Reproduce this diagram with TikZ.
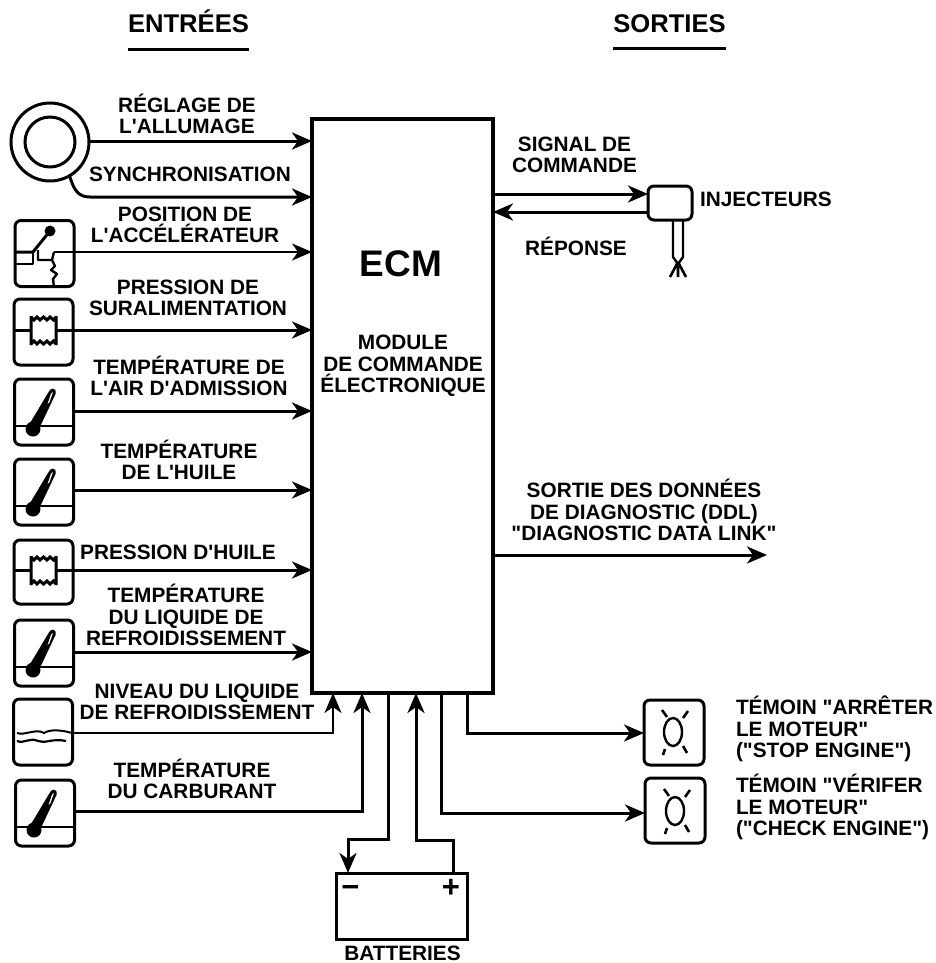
\documentclass[tikz,border=0pt]{standalone}
\usepackage{fontspec}
\setmainfont{Liberation Sans}[Ligatures=TeXOff]
\usetikzlibrary{arrows.meta}
\tikzset{
  x=1pt,y=-1pt,
  every node/.style={outer sep=0pt},
  arr/.style={line width=3pt,-{Stealth[length=20pt,width=17pt,inset=6pt]}},
  lab/.style={font=\fontsize{20.8}{21.5}\selectfont\bfseries,align=center,inner sep=0pt},
  labl/.style={lab,align=left,anchor=west},
  title/.style={font=\fontsize{25.6}{28}\selectfont\bfseries,inner sep=0pt,anchor=base},
  sign/.style={font=\fontsize{31}{31}\selectfont\bfseries,inner sep=0pt,anchor=base},
  icon/.style={draw,line width=3pt,rounded corners=6pt,minimum width=59pt,minimum height=66pt,inner sep=0pt},
  lamp/.style={icon,minimum width=60pt,minimum height=65pt},
  detail/.style={line width=3pt,line join=round},
}
\newcommand{\thermo}[2]{%
  \begin{scope}[shift={(#1,#2)}]
    \draw[line width=2.2pt] (0,47) -- (59,47);
    \fill (18.5,50) circle (7.5);
    \fill (15,45) -- (33.5,14) .. controls (35.5,8) and (42.5,8) .. (41,15) -- (24,51) -- cycle;
    \fill[white] (36.5,14.5) -- (38.5,13) -- (35,23) -- (33,25) -- cycle;
  \end{scope}}
\newcommand{\bellows}[2]{%
  \begin{scope}[shift={(#1,#2)}]
    \draw[detail] (0,0) -- (17,0);
    \draw[line width=3pt,line join=miter] (17,-13) -- (20,-10) -- (23,-13) -- (26,-10) -- (29.5,-13) -- (33,-10) -- (36,-13) -- (39.5,-10) -- (42,-13) (42,-14) -- (42,15) (42,14) -- (39.5,11) -- (36,14) -- (33,11) -- (29.5,14) -- (26,11) -- (23,14) -- (20,11) -- (17,14) (17,15) -- (17,-14);
  \end{scope}}
\newcommand{\rays}[2]{%
  \begin{scope}[shift={(#1,#2)}]
    \draw[line width=2.4pt] (0,0) ellipse (9 and 14);
    \draw[line width=2.6pt] (-11,-22) -- (-6,-15) (15,-21) -- (10,-14) (-10,23) -- (-8,17) (14,21) -- (10,14);
  \end{scope}}
\begin{document}
\begin{tikzpicture}
\useasboundingbox (0,0) rectangle (936,963);
% ECM
\node[draw,line width=4pt,minimum width=181pt,minimum height=574pt,inner sep=0pt] (ecm) at (402.5,406) {};
\node[font=\fontsize{37}{40}\selectfont\bfseries,inner sep=0pt] (ecmt) at (401,264) {ECM};
\node[lab] (ecmd) at (403,366) {MODULE\\DE COMMANDE\\ÉLECTRONIQUE};
% titles
\node[title] (te) at (188.5,33) {ENTRÉES};
\node[title] (ts) at (669.5,33) {SORTIES};
\draw[line width=3pt] (te.west |- 0,50) -- (te.east |- 0,50);
\draw[line width=3pt] (ts.west |- 0,49) -- (ts.east |- 0,49);
% input icons
\node[draw,circle,line width=3pt,minimum size=78pt,inner sep=0pt] (ring) at (50,142) {};
\node[draw,circle,line width=3pt,minimum size=50pt,inner sep=0pt] (ringi) at (50,142) {};
\node[icon] (i3) at (44.5,253.5) {};
\node[icon] (i4) at (43.5,332) {};
\node[icon] (i5) at (44,412) {};
\node[icon] (i6) at (44,492) {};
\node[icon,minimum height=64pt] (i7) at (43.5,572) {};
\node[icon] (i8) at (44,653) {};
\node[icon] (i9) at (43,732) {};
\node[icon] (i10) at (45,813) {};
% icon details
\fill (50,231) circle (5.5);
\draw[detail] (50,231) -- (33,252) -- (15,252);
\draw[detail,line width=2.4pt] (15,264) -- (33,264) -- (33,252);
\draw[detail,line width=2.4pt] (38,250) -- (38,260) -- (52,260) -- (55,266) -- (51,270) -- (57,274) -- (53,279) -- (54,287);
\draw[detail,line width=2.4pt] (52,260) -- (54,252);
\bellows{14}{330}
\bellows{14}{570}
\thermo{14.5}{379}
\thermo{14.5}{459}
\thermo{14.5}{620}
\thermo{15.5}{780}
\draw[line width=2.2pt] (17,741) .. controls (24,744) and (30,737) .. (38,741) .. controls (45,744) and (52,738) .. (66,741);
\draw[line width=2pt] (17,733) .. controls (24,736) and (36,728) .. (44,733) .. controls (50,729) and (62,730) .. (72,733);
% input connectors
\draw[arr] (ring.east |- 0,141) -- (ecm.west |- 0,141);
\draw[arr] (ring.-60) .. controls (74,190) and (78,197) .. (90,197) -- (ecm.west |- 0,197);
\draw[arr,line width=2.6pt] (54,252) -- (i3.east |- 0,252) -- (ecm.west |- 0,252);
\draw[arr] (i4.east |- 0,330) -- (ecm.west |- 0,330);
\draw[detail] (56,330) -- (i4.east |- 0,330);
\draw[arr] (i5.east |- 0,411) -- (ecm.west |- 0,411);
\draw[arr] (i6.east |- 0,490) -- (ecm.west |- 0,490);
\draw[arr] (i7.east |- 0,570) -- (ecm.west |- 0,570);
\draw[detail] (56,570) -- (i7.east |- 0,570);
\draw[arr] (i8.east |- 0,652) -- (ecm.west |- 0,652);
\draw[arr,line width=2.6pt] (i9.east |- 0,733) -- (333,733) -- (333,693);
\draw[arr] (i10.east |- 0,811) -- (362,811) -- (362,693);
% input labels
\node[lab] (l1) at (187,114) {RÉGLAGE DE\\L'ALLUMAGE};
\node[lab] (l2) at (190,174) {SYNCHRONISATION};
\node[lab] (l3) at (185,225) {POSITION DE\\L'ACCÉLÉRATEUR};
\node[lab] (l4) at (188,298) {PRESSION DE\\SURALIMENTATION};
\node[lab] (l5) at (189,376) {TEMPÉRATURE DE\\L'AIR D'ADMISSION};
\node[lab] (l6) at (179,460) {TEMPÉRATURE\\DE L'HUILE};
\node[lab] (l7) at (178,552) {PRESSION D'HUILE};
\node[lab] (l8) at (186,615) {TEMPÉRATURE\\DU LIQUIDE DE\\REFROIDISSEMENT};
\node[lab] (l9) at (197,702) {NIVEAU DU LIQUIDE\\DE REFROIDISSEMENT};
\node[lab] (l10) at (192,779) {TEMPÉRATURE\\DU CARBURANT};
% injector
\node[draw,line width=3pt,rounded corners=6pt,minimum width=44pt,minimum height=34pt,inner sep=0pt] (inj) at (670,203) {};
\draw[line width=2.4pt] (673,220) -- (673,257) -- (678,264) -- (683,257) -- (683,220);
\draw[line width=2.6pt] (678,262) -- (670,277) (678,262) -- (678,277) (678,262) -- (686,277);
\draw[arr] (ecm.east |- 0,194) -- (inj.west |- 0,194);
\draw[arr] (inj.west |- 0,212) -- (ecm.east |- 0,212);
\node[lab] (o1) at (574.5,155) {SIGNAL DE\\COMMANDE};
\node[lab] (o2) at (576,246.5) {RÉPONSE};
\node[labl] (o3) at (700,199) {INJECTEURS};
% diagnostics
\coordinate (ddl) at (767,555);
\draw[arr] (ecm.east |- ddl) -- (ddl);
\node[lab] (o4) at (644,510) {SORTIE DES DONNÉES\\DE DIAGNOSTIC (DDL)\\"DIAGNOSTIC DATA LINK"};
% lamps
\node[lamp] (lp1) at (674,732.5) {};
\node[lamp] (lp2) at (675,810.5) {};
\rays{673}{732}
\rays{675}{811}
\draw[arr] (467,693) -- (467,733) -- (lp1.west |- 0,733);
\draw[arr] (441,693) -- (441,813) -- (lp2.west |- 0,813);
\node[labl] (o5) at (736,729) {TÉMOIN "ARRÊTER\\LE MOTEUR"\\("STOP ENGINE")};
\node[labl] (o6) at (736,807) {TÉMOIN "VÉRIFER\\LE MOTEUR"\\("CHECK ENGINE")};
% battery
\node[draw,line width=3pt,minimum width=131pt,minimum height=66pt,inner sep=0pt] (bat) at (401.5,906) {};
\draw[arr] (388,693) -- (388,839) -- (348,839) -- (348,873);
\draw[arr] (453,873) -- (453,840) -- (416,840) -- (416,693);
\node[sign] (minus) at (350.5,897) {−};
\node[sign] (plus) at (451,897) {+};
\node[lab] (bl) at (402.5,953.5) {BATTERIES};
\end{tikzpicture}
\end{document}
